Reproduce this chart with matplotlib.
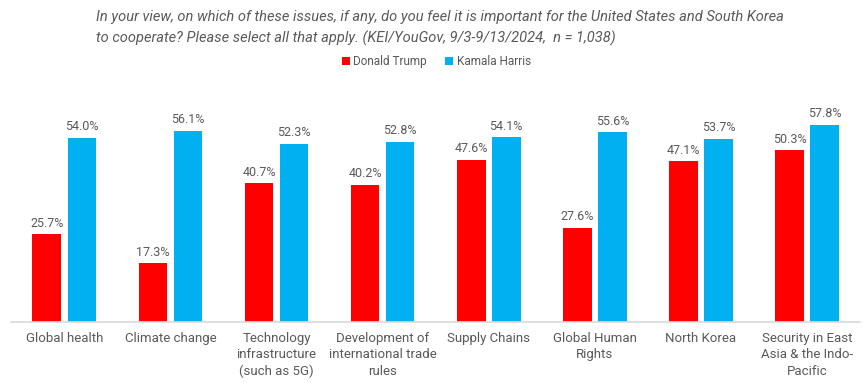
import numpy as np
import matplotlib.pyplot as plt

plt.rcParams['font.family'] = ['Roboto', 'DejaVu Sans']

categories = ['Global health', 'Climate change', 'Technology\ninfrastructure\n(such as 5G)',
              'Development of\ninternational trade\nrules', 'Supply Chains', 'Global Human\nRights',
              'North Korea', 'Security in East\nAsia & the Indo-\nPacific']
trump = [25.7, 17.3, 40.7, 40.2, 47.6, 27.6, 47.1, 50.3]
harris = [54.0, 56.1, 52.3, 52.8, 54.1, 55.6, 53.7, 57.8]

red = '#FF0000'
blue = '#00B0F0'
gray = '#595959'

fig = plt.figure(figsize=(8.67, 3.83), dpi=100)
ax = fig.add_axes([0.013, 0.159, 0.979, 0.606])

x = np.arange(len(categories))
w = 0.27
b1 = ax.bar(x - 0.165, trump, w, color=red, label='Donald Trump')
b2 = ax.bar(x + 0.165, harris, w, color=blue, label='Kamala Harris')

for bars in (b1, b2):
    for b in bars:
        ax.text(b.get_x() + b.get_width() / 2, b.get_height() + 1.3, f'{b.get_height():.1f}%',
                ha='center', va='bottom', fontsize=9, color=gray)

ax.set_xlim(-0.5, len(categories) - 0.5)
ax.set_ylim(0, 68)
ax.set_yticks([])
ax.set_xticks(x)
ax.set_xticklabels(categories, fontsize=9.5, color=gray, linespacing=1.35)
ax.tick_params(axis='x', length=0, pad=7)
for s in ['top', 'right', 'left']:
    ax.spines[s].set_visible(False)
ax.spines['bottom'].set_color('#D9D9D9')
ax.spines['bottom'].set_linewidth(1.2)

fig.text(0.111, 0.975, 'In your view, on which of these issues, if any, do you feel it is important for the United States and South Korea\n'
         'to cooperate? Please select all that apply. (KEI/YouGov, 9/3-9/13/2024,  n = 1,038)',
         ha='left', va='top', fontsize=10.5, style='italic', color=gray, linespacing=1.6)

fig.legend(handles=[b1, b2], loc='center', bbox_to_anchor=(0.503, 0.84), ncol=2, frameon=False,
           fontsize=8.5, handlelength=0.7, handleheight=0.7, columnspacing=1.5, handletextpad=0.3,
           labelcolor=gray)

fig.savefig('out.png', dpi=100)
